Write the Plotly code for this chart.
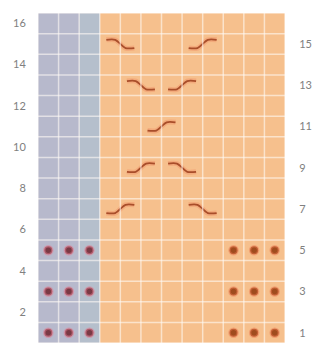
import plotly.graph_objects as go

# ---- data ----
n_cols = 12
n_rows = 16
blue_cols = [1, 2, 3]                      # contrast (grey-blue) columns
left_ticks = [2, 4, 6, 8, 10, 12, 14, 16]   # even rows, labelled on the left
right_ticks = [1, 3, 5, 7, 9, 11, 13, 15]   # odd rows, labelled on the right

# bobble / dot stitches
dot_rows = [1, 3, 5]
dot_cols_left = [1, 2, 3]
dot_cols_right = [10, 11, 12]

# cable crossings: (row, first column of the pair, direction +1 = rising, -1 = falling)
cable_rows = [15, 15, 13, 13, 11, 9, 9, 7, 7]
cable_cols = [4, 8, 5, 7, 6, 5, 7, 4, 8]
cable_dirs = [-1, 1, -1, 1, 1, 1, -1, 1, -1]

# ---- styling ----
BLUE = "#b7b9cc"
BLUE2 = "#b5bfcc"
ORANGE = "#f6c08d"

z = []
for r in range(1, n_rows + 1):
    row = []
    for c in range(1, n_cols + 1):
        if c in blue_cols:
            row.append(1 if c == 3 else 0)
        else:
            row.append(2)
    z.append(row)

fig = go.Figure()
fig.add_trace(go.Heatmap(
    z=z,
    x=list(range(1, n_cols + 1)),
    y=list(range(1, n_rows + 1)),
    colorscale=[[0, BLUE], [0.5, BLUE2], [1, ORANGE]],
    zmin=0, zmax=2, showscale=False, hoverinfo="skip",
))

# cable symbols (shape template relative to the pair centre)
tx = [-0.68, -0.25, 0.25, 0.68]
ty = [-0.2, -0.2, 0.2, 0.2]
for r, c, d in zip(cable_rows, cable_cols, cable_dirs):
    xc = c + 0.5
    fig.add_trace(go.Scatter(
        x=[xc + t for t in tx], y=[r + d * t for t in ty],
        mode="lines", line=dict(color="rgba(240,140,100,0.4)", width=5, shape="spline", smoothing=0.8),
        hoverinfo="skip", showlegend=False))
    fig.add_trace(go.Scatter(
        x=[xc + t for t in tx], y=[r + d * t for t in ty],
        mode="lines", line=dict(color="#a94e2a", width=1.8, shape="spline", smoothing=0.8),
        hoverinfo="skip", showlegend=False))

# dots
lx, ly, rx, ry = [], [], [], []
for r in dot_rows:
    for c in dot_cols_left:
        lx.append(c); ly.append(r)
    for c in dot_cols_right:
        rx.append(c); ry.append(r)
fig.add_trace(go.Scatter(
    x=lx, y=ly, mode="markers",
    marker=dict(size=8, color="#7a3a45", line=dict(color="rgba(225,120,140,0.5)", width=2.5)),
    hoverinfo="skip", showlegend=False))
fig.add_trace(go.Scatter(
    x=rx, y=ry, mode="markers", yaxis="y2",
    marker=dict(size=8, color="#a04c1e", line=dict(color="rgba(235,120,80,0.45)", width=2.5)),
    hoverinfo="skip", showlegend=False))

# grid lines
shapes = []
for i in range(n_cols + 1):
    shapes.append(dict(type="line", xref="x", yref="y", x0=0.5 + i, x1=0.5 + i, y0=0.5, y1=n_rows + 0.5,
                       line=dict(color="rgba(255,250,245,0.6)", width=1.5), layer="above"))
for j in range(n_rows + 1):
    shapes.append(dict(type="line", xref="x", yref="y", y0=0.5 + j, y1=0.5 + j, x0=0.5, x1=n_cols + 0.5,
                       line=dict(color="rgba(255,250,245,0.6)", width=1.5), layer="above"))

tickfont = dict(family="Lato", size=11, color="#808080")
fig.update_layout(
    width=312, height=337,
    margin=dict(l=30, r=35, t=5, b=2),
    paper_bgcolor="white", plot_bgcolor="white",
    showlegend=False,
    shapes=shapes,
    xaxis=dict(range=[0.5, n_cols + 0.5], showgrid=False, zeroline=False, showticklabels=False,
               ticks="", fixedrange=True),
    yaxis=dict(range=[0.5, n_rows + 0.5], showgrid=False, zeroline=False,
               tickvals=left_ticks, ticktext=[str(v) for v in left_ticks],
               ticks="outside", ticklen=9, tickcolor="rgba(0,0,0,0)", tickfont=tickfont),
    yaxis2=dict(range=[0.5, n_rows + 0.5], overlaying="y", side="right", showgrid=False, zeroline=False,
                tickvals=right_ticks, ticktext=[str(v) for v in right_ticks],
                ticks="outside", ticklen=11, tickcolor="rgba(0,0,0,0)", tickfont=tickfont),
)

fig.write_html("out.html")
